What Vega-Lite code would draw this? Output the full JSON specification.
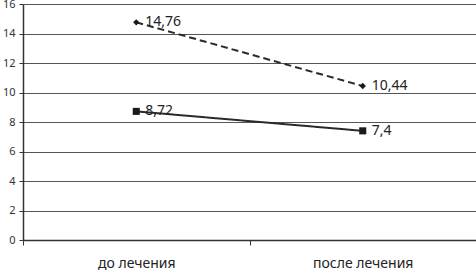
{
  "$schema": "https://vega.github.io/schema/vega-lite/v6.json",
  "width": 453,
  "height": 236,
  "autosize": {"type": "none"},
  "padding": {"left": 23, "top": 4, "right": 0, "bottom": 34},
  "background": "white",
  "config": {"view": {"stroke": null}, "font": "Noto Sans"},
  "data": {"values": [
    {"period": "до лечения", "series": "A", "value": 14.76, "label": "14,76"},
    {"period": "после лечения", "series": "A", "value": 10.44, "label": "10,44"},
    {"period": "до лечения", "series": "B", "value": 8.72, "label": "8,72"},
    {"period": "после лечения", "series": "B", "value": 7.4, "label": "7,4"}
  ]},
  "encoding": {
    "x": {
      "field": "period", "type": "nominal", "sort": null,
      "scale": {"type": "band", "paddingInner": 0, "paddingOuter": 0},
      "axis": {"title": null, "labelAngle": 0, "tickBand": "extent", "tickSize": 5, "tickColor": "#333", "domainColor": "#333", "domainWidth": 1.5, "labelFontSize": 14, "labelColor": "#222", "labelPadding": 11, "grid": false}
    },
    "y": {
      "field": "value", "type": "quantitative",
      "scale": {"domain": [0, 16], "nice": false},
      "axis": {"title": null, "values": [0, 2, 4, 6, 8, 10, 12, 14, 16], "grid": true, "gridColor": "#555", "gridWidth": 1, "tickSize": 4, "tickColor": "#333", "domainColor": "#333", "domainWidth": 1.5, "labelFontSize": 11, "labelColor": "#333", "labelPadding": 4}
    }
  },
  "layer": [
    {
      "mark": {"type": "line", "color": "#2a2a2a", "strokeWidth": 2},
      "encoding": {
        "detail": {"field": "series"},
        "strokeDash": {"field": "series", "type": "nominal", "scale": {"domain": ["A", "B"], "range": [[7, 4], [1, 0]]}, "legend": null}
      }
    },
    {
      "mark": {"type": "point", "filled": true, "color": "#1a1a1a", "opacity": 1},
      "encoding": {
        "shape": {"field": "series", "type": "nominal", "scale": {"domain": ["A", "B"], "range": ["diamond", "square"]}, "legend": null},
        "size": {"field": "series", "type": "nominal", "scale": {"domain": ["A", "B"], "range": [40, 50]}, "legend": null}
      }
    },
    {
      "mark": {"type": "text", "align": "left", "baseline": "middle", "dx": 9, "fontSize": 14, "color": "#222"},
      "encoding": {"text": {"field": "label"}}
    }
  ]
}
